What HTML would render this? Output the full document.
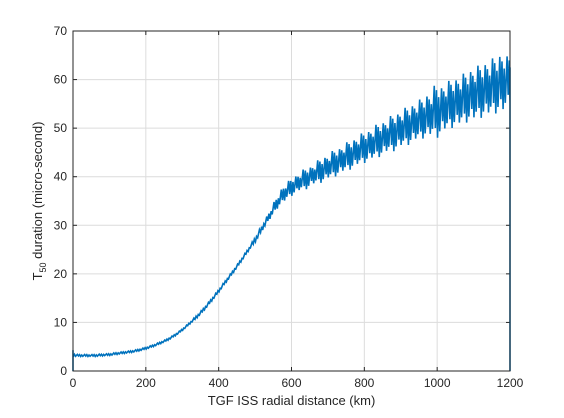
<!DOCTYPE html>
<html><head><meta charset="utf-8"><style>
body{margin:0;background:#fff;}
svg{display:block;font-family:"Liberation Sans",sans-serif;}
</style></head><body>
<svg id="c" width="564" height="418"></svg>
<script>
const xKm=[0,20,40,60,80,100,120,140,160,180,200,220,240,260,280,300,320,340,360,380,400,420,440,460,480,500,520,540,560,580,600,620,640,660,680,700,720,740,760,780,800,820,840,860,880,900,920,940,960,980,1000,1020,1040,1060,1080,1100,1120,1140,1160,1180,1200];
const meanT=[3.3,3.2,3.2,3.2,3.3,3.4,3.6,3.8,4.0,4.3,4.7,5.2,5.8,6.5,7.4,8.5,9.8,11.2,12.8,14.6,16.5,18.5,20.5,22.6,24.8,27,29.5,32,34.5,36.5,37.8,38.8,39.6,40.4,41.2,42,42.8,43.6,44.4,45.2,46,46.7,47.5,48.3,49,49.8,50.5,51.3,52,52.8,53.5,54.2,55,55.6,56.3,57,57.6,58.2,58.8,59.4,60];
const spreadT=[0.3,0.2,0.2,0.2,0.2,0.2,0.2,0.2,0.2,0.2,0.2,0.2,0.2,0.2,0.2,0.2,0.2,0.3,0.3,0.3,0.3,0.3,0.3,0.3,0.3,0.5,0.6,0.8,1.2,1.5,1.8,1.6,2.2,1.8,2.5,2.2,2.8,2.4,3,2.6,3.2,2.8,3.5,3,3.8,3.3,4,3.5,4.2,4,5.5,4.3,5,4.5,5.2,4.8,5.5,5,5.8,5.5,5];
const xTicks=[0,200,400,600,800,1000,1200];
const yTicks=[0,10,20,30,40,50,60,70];
const L=73,R=510,T=31,B=371;
const sx=v=>L+(v/1200)*(R-L), sy=v=>B-(v/70)*(B-T);
const svg=document.getElementById('c');const NS='http://www.w3.org/2000/svg';
function mk(t,a,p){const e=document.createElementNS(NS,t);for(const k in a)e.setAttribute(k,a[k]);(p||svg).appendChild(e);return e;}
mk('rect',{x:L,y:T,width:R-L,height:B-T,fill:'#fff'});
xTicks.forEach(v=>{const g=mk('line',{x1:sx(v),x2:sx(v),y1:T,y2:B,stroke:'#dcdcdc','stroke-width':1});


const t=mk('text',{x:sx(v),y:B+16,'text-anchor':'middle','font-size':12,fill:'#262626'});t.textContent=v;


mk('line',{x1:sx(v),x2:sx(v),y1:B,y2:B-4,stroke:'#262626'});mk('line',{x1:sx(v),x2:sx(v),y1:T,y2:T+4,stroke:'#262626'});});
yTicks.forEach(v=>{const g=mk('line',{x1:L,x2:R,y1:sy(v),y2:sy(v),stroke:'#dcdcdc','stroke-width':1});


const t=mk('text',{x:L-6,y:sy(v)+4,'text-anchor':'end','font-size':12,fill:'#262626'});t.textContent=v;


mk('line',{x1:L,x2:L+4,y1:sy(v),y2:sy(v),stroke:'#262626'});mk('line',{x1:R,x2:R-4,y1:sy(v),y2:sy(v),stroke:'#262626'});});
// zigzag rendering pattern within each bin; amplitude from spreadT, local slope from neighbours
const zig=[[-8,1],[-5,-0.6],[-2,0.8],[1,-1],[4,0.5],[7,-0.8]];
let d='M'+sx(0)+','+sy(0)+' L'+sx(0)+','+sy(4.3)+' ';
xKm.forEach((x,i)=>{
  const a=Math.max(0,i-1),b=Math.min(xKm.length-1,i+1);
  const slope=(meanT[b]-meanT[a])/(xKm[b]-xKm[a]);
  zig.forEach(z=>{const xx=Math.min(1200,Math.max(0,x+z[0]));
    d+='L'+sx(xx).toFixed(2)+','+sy(meanT[i]+slope*(xx-x)+z[1]*spreadT[i]).toFixed(2)+' ';});});
d+='L'+sx(1200)+','+sy(0);
const ln=mk('path',{d:d,fill:'none',stroke:'#0072bd','stroke-width':1.6,'stroke-linejoin':'miter'});


mk('rect',{x:L,y:T,width:R-L,height:B-T,fill:'none',stroke:'#262626','stroke-width':1});
const xl=mk('text',{x:(L+R)/2,y:B+34,'text-anchor':'middle','font-size':13,fill:'#262626'});xl.textContent='TGF ISS radial distance (km)';


const yl=mk('text',{transform:'translate(42,'+((T+B)/2)+') rotate(-90)','text-anchor':'middle','font-size':13,fill:'#262626'});
yl.innerHTML='T<tspan font-size="9" dy="4">50</tspan><tspan dy="-4"> duration (micro-second)</tspan>';


</script>
</body></html>
